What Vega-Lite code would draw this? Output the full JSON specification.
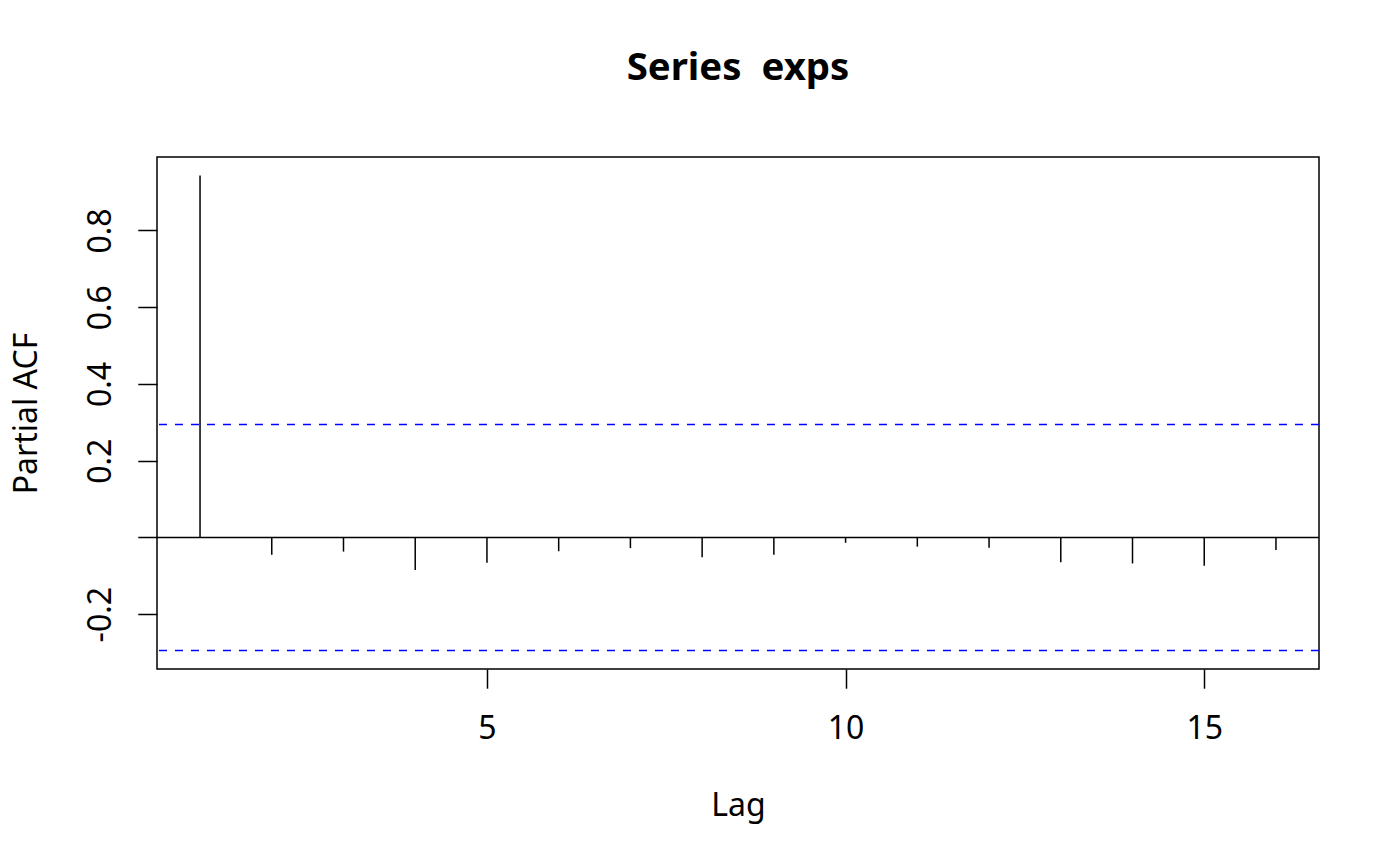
{
  "$schema": "https://vega.github.io/schema/vega-lite/v6.json",
  "width": 1162,
  "height": 512,
  "autosize": "none",
  "padding": {"left": 157, "top": 157, "right": 81, "bottom": 197},
  "background": "white",
  "title": {
    "text": "Series\u00a0 exps",
    "font": "Noto Sans",
    "fontSize": 38.4,
    "fontWeight": "bold",
    "color": "black",
    "anchor": "middle",
    "baseline": "alphabetic",
    "offset": 39
  },
  "config": {
    "view": {"stroke": "black", "strokeWidth": 1.5},
    "axis": {
      "domain": false,
      "grid": false,
      "tickColor": "black",
      "tickWidth": 1.5,
      "tickSize": 19.2,
      "labelFont": "Noto Sans",
      "labelFontSize": 32,
      "labelColor": "black",
      "labelOverlap": false,
      "labelFlush": false,
      "titleFont": "Noto Sans",
      "titleFontSize": 32,
      "titleFontWeight": "normal",
      "titleColor": "black"
    }
  },
  "datasets": {
    "pacf": [
      {"lag": 1, "pacf": 0.943},
      {"lag": 2, "pacf": -0.045},
      {"lag": 3, "pacf": -0.037},
      {"lag": 4, "pacf": -0.085},
      {"lag": 5, "pacf": -0.066},
      {"lag": 6, "pacf": -0.036},
      {"lag": 7, "pacf": -0.028},
      {"lag": 8, "pacf": -0.052},
      {"lag": 9, "pacf": -0.045},
      {"lag": 10, "pacf": -0.014},
      {"lag": 11, "pacf": -0.024},
      {"lag": 12, "pacf": -0.027},
      {"lag": 13, "pacf": -0.065},
      {"lag": 14, "pacf": -0.068},
      {"lag": 15, "pacf": -0.074},
      {"lag": 16, "pacf": -0.033}
    ],
    "zero": [
      {"z": 0}
    ],
    "clim": [
      {"v": 0.2945},
      {"v": -0.2945}
    ]
  },
  "layer": [
    {
      "data": {"name": "pacf"},
      "mark": {"type": "rule", "color": "black", "strokeWidth": 1.5},
      "encoding": {
        "x": {
          "field": "lag",
          "type": "quantitative",
          "scale": {"domain": [0.4, 16.6], "nice": false, "zero": false},
          "axis": {
            "values": [5, 10, 15],
            "format": "d",
            "labelBaseline": "alphabetic",
            "labelPadding": 50,
            "title": "Lag",
            "titleX": 581,
            "titleY": 146,
            "titleAlign": "center",
            "titleBaseline": "alphabetic"
          }
        },
        "y": {
          "field": "pacf",
          "type": "quantitative",
          "scale": {"domain": [-0.343, 0.9915], "nice": false, "zero": false},
          "axis": {
            "values": [-0.2, 0, 0.2, 0.4, 0.6, 0.8],
            "labelExpr": "datum.value == 0 ? '' : (datum.value < 0 ? '-' + format(-datum.value, '.1f') : format(datum.value, '.1f'))",
            "labelAngle": -90,
            "labelAlign": "center",
            "labelBaseline": "alphabetic",
            "labelPadding": 27,
            "title": "Partial ACF",
            "titleAngle": -90,
            "titleX": -121,
            "titleY": 256,
            "titleAlign": "center",
            "titleBaseline": "alphabetic"
          }
        },
        "y2": {"datum": 0}
      }
    },
    {
      "data": {"name": "zero"},
      "mark": {"type": "rule", "color": "black", "strokeWidth": 1.5},
      "encoding": {"y": {"field": "z", "type": "quantitative"}}
    },
    {
      "data": {"name": "clim"},
      "mark": {"type": "rule", "color": "blue", "strokeWidth": 1.5, "strokeDash": [8, 8]},
      "encoding": {"y": {"field": "v", "type": "quantitative"}}
    }
  ]
}
